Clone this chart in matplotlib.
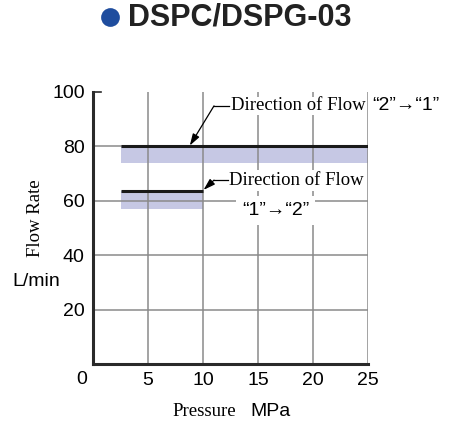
import matplotlib
matplotlib.use("Agg")
import matplotlib.pyplot as plt
from matplotlib.lines import Line2D

# chart data
pressure_21 = [2.5, 25]      # MPa, flow "2"->"1"
flow_21 = [80, 80]
band_21_low = [74, 74]
pressure_12 = [2.5, 10]      # MPa, flow "1"->"2"
flow_12 = [63.5, 63.5]
band_12_low = [57, 57]
x_ticks = [5, 10, 15, 20, 25]
y_ticks = [20, 40, 60, 80, 100]

SANS = ['Liberation Sans', 'DejaVu Sans']
SERIF = ['Liberation Serif', 'DejaVu Serif']
BAND = '#c6c8e4'
GRID = '#8a8a8a'
FS_SANS = 14
FS_SERIF = 13.5

W, H = 454, 432
fig = plt.figure(figsize=(W / 100, H / 100), dpi=100)
ax = fig.add_axes([93 / W, 1 - 364 / H, 275 / W, 272 / H])
ax.set_xlim(0, 25)
ax.set_ylim(0, 100)

# grid
for x in x_ticks:
    ax.axvline(x, color=GRID, lw=1.1, zorder=1)
for y in y_ticks[:-1]:
    ax.axhline(y, color=GRID, lw=1.1, zorder=1)

# bands and lines
ax.fill_between(pressure_21, band_21_low, flow_21, color=BAND, lw=0, zorder=0)
ax.fill_between(pressure_12, band_12_low, flow_12, color=BAND, lw=0, zorder=0)
ax.plot(pressure_21, flow_21, color='#1a1a1a', lw=2.2, zorder=3, solid_capstyle='butt')
ax.plot(pressure_12, flow_12, color='#1a1a1a', lw=2.2, zorder=3, solid_capstyle='butt')

for s in ['top', 'right']:
    ax.spines[s].set_visible(False)
for s in ['left', 'bottom']:
    ax.spines[s].set_linewidth(2.2)
    ax.spines[s].set_color('#2a2a2a')

ax.set_xticks(x_ticks)
ax.set_yticks(y_ticks)
ax.tick_params(length=0, pad=6, labelsize=FS_SANS)
for lab in ax.get_xticklabels() + ax.get_yticklabels():
    lab.set_family(SANS)
ax.plot([0, 0.7], [100, 100], color='#2a2a2a', lw=1.2, clip_on=False, zorder=4)

# annotations
arrow = dict(arrowstyle='-|>,head_length=0.7,head_width=0.22', color='black', lw=0.9,
             shrinkA=0, shrinkB=0)
ax.annotate('', xy=(8.8, 80.3), xytext=(11.0, 94.9), arrowprops=arrow, zorder=5)
ax.plot([11.0, 12.4], [94.9, 94.9], color='black', lw=0.9, clip_on=False, zorder=5)
ax.text(12.5, 94.9, 'Direction of Flow', family=SERIF, fontsize=FS_SERIF, va='center',
        ha='left', bbox=dict(facecolor='white', edgecolor='none', pad=0.5), zorder=4)
ax.text(25.35, 94.9, '\u201c2\u201d\u2192\u201c1\u201d', family=SANS, fontsize=FS_SANS,
        va='center', ha='left', clip_on=False, zorder=4)

ax.annotate('', xy=(10.05, 64.0), xytext=(11.0, 67.6), arrowprops=arrow, zorder=5)
ax.plot([11.0, 12.3], [67.6, 67.6], color='black', lw=0.9, zorder=5)
ax.text(12.4, 67.6, 'Direction of Flow', family=SERIF, fontsize=FS_SERIF, va='center',
        ha='left', bbox=dict(facecolor='white', edgecolor='none', pad=1.5), zorder=4)
ax.text(16.6, 56.4, '\u201c1\u201d\u2192\u201c2\u201d', family=SANS, fontsize=FS_SANS,
        va='center', ha='center',
        bbox=dict(facecolor='white', edgecolor='none', pad=4), zorder=4)

# axis labels and corner zero
fig.text(82 / W, 1 - 380 / H, '0', family=SANS, fontsize=FS_SANS, ha='center', va='center')
fig.text(36 / W, 1 - 218 / H, 'Flow Rate', family=SERIF, fontsize=FS_SERIF, rotation=90,
         ha='center', va='center')
fig.text(36 / W, 1 - 281 / H, 'L/min', family=SANS, fontsize=FS_SANS, ha='center', va='center')
fig.text(236 / W, 1 - 412 / H, 'Pressure', family=SERIF, fontsize=FS_SERIF, ha='right',
         va='center')
fig.text(250 / W, 1 - 412 / H, 'MPa', family=SANS, fontsize=FS_SANS, ha='left', va='center')

# title
fig.add_artist(Line2D([110 / W], [1 - 17 / H], marker='o', markersize=13.5, color='#1f4d9e',
                      markeredgewidth=0, transform=fig.transFigure))
fig.text(128 / W, 1 - 17 / H, 'DSPC/DSPG-03', family=SANS, fontsize=22, weight='bold',
         color='#222222', ha='left', va='center')

fig.savefig('out.png', dpi=100)
